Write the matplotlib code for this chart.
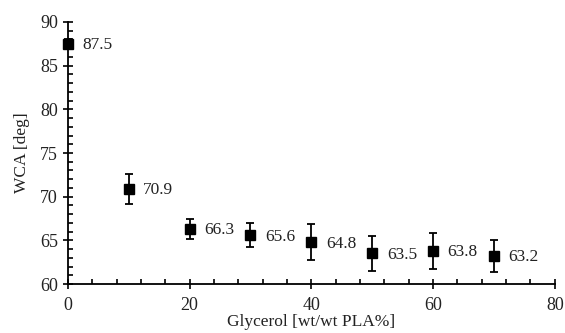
import matplotlib.pyplot as plt
from matplotlib.ticker import MultipleLocator

plt.rcParams['font.family'] = ['Liberation Serif', 'DejaVu Serif']

glycerol = [0, 10, 20, 30, 40, 50, 60, 70]
wca = [87.5, 70.9, 66.3, 65.6, 64.8, 63.5, 63.8, 63.2]
wca_err = [0.6, 1.7, 1.1, 1.4, 2.1, 2.0, 2.1, 1.8]
labels = ["87.5", "70.9", "66.3", "65.6", "64.8", "63.5", "63.8", "63.2"]

fig = plt.figure(figsize=(5.65, 3.33), dpi=100)
ax = fig.add_axes([0.120, 0.147, 0.862, 0.787])

ax.errorbar(glycerol, wca, yerr=wca_err, fmt='s', color='black', markersize=6.5,
            ecolor='black', elinewidth=1.3, capsize=3, capthick=1.3,
            clip_on=False, zorder=5)
for x, y, t in zip(glycerol, wca, labels):
    ax.annotate(t, (x, y), xytext=(10.5, -1), textcoords='offset points',
                va='center', ha='left', fontsize=12.5, color='#222222')

ax.set_xlim(0, 80)
ax.set_ylim(60, 90)
ax.xaxis.set_major_locator(MultipleLocator(20))
ax.xaxis.set_minor_locator(MultipleLocator(4))
ax.yaxis.set_major_locator(MultipleLocator(5))
ax.yaxis.set_minor_locator(MultipleLocator(1))
ax.tick_params(which='major', direction='inout', length=7, width=1.2, labelsize=13, colors='black')
ax.tick_params(which='minor', direction='in', length=3.5, width=1.2)
ax.tick_params(axis='both', labelcolor='#222222')
ax.tick_params(axis='x', pad=6)

for side in ['top', 'right']:
    ax.spines[side].set_visible(False)
for side in ['left', 'bottom']:
    ax.spines[side].set_linewidth(1.3)

ax.set_xlabel("Glycerol [wt/wt PLA%]", fontsize=12.5, color='#222222', labelpad=0)
ax.set_ylabel("WCA [deg]", fontsize=12.5, color='#222222', labelpad=7)

fig.savefig("out.png", dpi=100)
